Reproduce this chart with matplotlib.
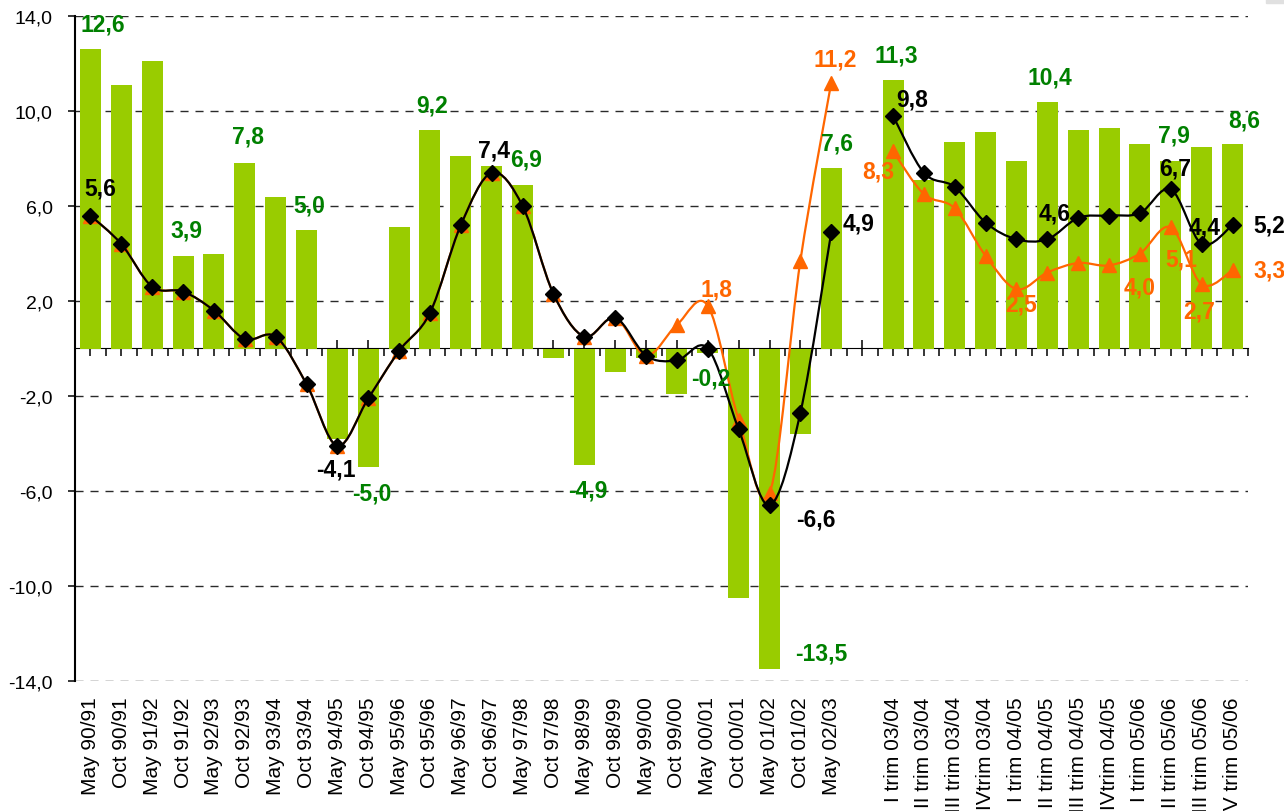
import numpy as np
import matplotlib
matplotlib.use("Agg")
import matplotlib.pyplot as plt
from matplotlib.path import Path
from matplotlib.patches import PathPatch, Rectangle
from matplotlib.ticker import FixedLocator, FuncFormatter

plt.rcParams['font.family'] = ['Liberation Sans', 'DejaVu Sans']

# ---------------- data ----------------
annual_labels = ["May 90/91", "Oct 90/91", "May 91/92", "Oct 91/92", "May 92/93",
                 "Oct 92/93", "May 93/94", "Oct 93/94", "May 94/95", "Oct 94/95",
                 "May 95/96", "Oct 95/96", "May 96/97", "Oct 96/97", "May 97/98",
                 "Oct 97/98", "May 98/99", "Oct 98/99", "May 99/00", "Oct 99/00",
                 "May 00/01", "Oct 00/01", "May 01/02", "Oct 01/02", "May 02/03"]
quarter_labels = ["I trim 03/04", "II trim 03/04", "III trim 03/04", "IVtrim 03/04",
                  "I trim 04/05", "II trim 04/05", "III trim 04/05", "IVtrim 04/05",
                  "I trim 05/06", "II trim 05/06", "III trim 05/06", "IV trim 05/06"]

bars_annual = [12.6, 11.1, 12.1, 3.9, 4.0, 7.8, 6.4, 5.0, -3.8, -5.0, 5.1, 9.2, 8.1,
               7.7, 6.9, -0.4, -4.9, -1.0, -0.4, -1.9, -0.2, -10.5, -13.5, -3.6, 7.6]
bars_quarter = [11.3, 7.1, 8.7, 9.1, 7.9, 10.4, 9.2, 9.3, 8.6, 7.9, 8.5, 8.6]

black_annual = [5.6, 4.4, 2.6, 2.4, 1.6, 0.4, 0.5, -1.5, -4.1, -2.1, -0.1, 1.5, 5.2,
                7.4, 6.0, 2.3, 0.5, 1.3, -0.3, -0.5, 0.0, -3.4, -6.6, -2.7, 4.9]
black_quarter = [9.8, 7.4, 6.8, 5.3, 4.6, 4.6, 5.5, 5.6, 5.7, 6.7, 4.4, 5.2]

orange_annual = [5.6, 4.4, 2.6, 2.4, 1.6, 0.4, 0.5, -1.5, -4.1, -2.1, -0.1, 1.5, 5.2,
                 7.4, 6.0, 2.3, 0.5, 1.3, -0.3, 1.0, 1.8, -3.0, -6.1, 3.7, 11.2]
orange_quarter = [8.3, 6.5, 5.9, 3.9, 2.5, 3.2, 3.6, 3.5, 4.0, 5.1, 2.7, 3.3]

y_ticks = [-14, -10, -6, -2, 2, 6, 10, 14]

# ---------------- style / label placement (pixel offsets) ----------------
GREEN_BAR = "#99CC00"
GREEN_TXT = "#008000"
ORANGE = "#FF6600"
BLACK = "#000000"

green_label_offsets = {0: (12, 25), 3: (3, 26), 5: (3, 27), 7: (3, 25), 9: (4, -26),
                       11: (2, 25), 14: (3, 26), 16: (3, -25), 20: (3, -25),
                       22: (52, 16), 24: (6, 25), 26: (3, 25), 31: (3, 25),
                       35: (3, 26), 37: (12, 24)}
black_label_offsets = {0: (10, 28), 8: (-2, -23), 13: (2, 23), 22: (46, -14),
                       24: (27, 9), 26: (19, 17), 31: (7, 26), 35: (4, 21),
                       36: (3, 17), 37: (37, 0)}
orange_label_offsets = {20: (9, 17), 24: (4, 24), 26: (-15, -20), 30: (5, -15),
                        34: (0, -34), 35: (10, -32), 36: (-3, -27), 37: (37, 0)}

# ---------------- positions ----------------
x_annual = np.arange(len(annual_labels))
x_quarter = np.arange(len(quarter_labels)) + len(annual_labels) + 1
n_slots = len(annual_labels) + 1 + len(quarter_labels)
slot_labels = annual_labels + [""] + quarter_labels


def fmt(v):
    return f"{v:.1f}".replace(".", ",")


def smooth_path(xs, ys):
    pts = np.column_stack([xs, ys]).astype(float)
    n = len(pts)
    verts = [pts[0]]
    codes = [Path.MOVETO]
    for i in range(n - 1):
        p0 = pts[i - 1] if i > 0 else pts[i]
        p1 = pts[i]
        p2 = pts[i + 1]
        p3 = pts[i + 2] if i + 2 < n else pts[i + 1]
        c1 = p1 + (p2 - p0) / 6.0
        c2 = p2 - (p3 - p1) / 6.0
        verts += [c1, c2, p2]
        codes += [Path.CURVE4] * 3
    return Path(verts, codes)


fig = plt.figure(figsize=(12.84, 8.12), dpi=100)
W, H = 1284, 812
ax = fig.add_axes([75 / W, 1 - 682 / H, (1248 - 75) / W, (682 - 17) / H])

# small grey mark in the top-right corner of the reference
fig.patches.append(Rectangle((1266 / W, 1 - 4 / H), 18 / W, 4 / H,
                             transform=fig.transFigure, color="#E0E0E0", zorder=0))

ax.set_xlim(-0.5, n_slots - 0.5)
ax.set_ylim(-14, 14)

# grid
ax.set_yticks(y_ticks)
ax.yaxis.set_major_formatter(FuncFormatter(lambda v, p: fmt(v)))
ax.yaxis.grid(True, color="#2a2a2a", linewidth=1.0, linestyle=(0, (5.8, 5.0)), zorder=0)
ax.set_axisbelow(True)

# bars
bw = 0.68
ax.bar(x_annual, bars_annual, width=bw, color=GREEN_BAR, zorder=2)
ax.bar(x_quarter, bars_quarter, width=bw, color=GREEN_BAR, zorder=2)

# smooth lines
for xs, ys, col, z in [(x_annual, orange_annual, ORANGE, 3), (x_quarter, orange_quarter, ORANGE, 3),
                       (x_annual, black_annual, BLACK, 5), (x_quarter, black_quarter, BLACK, 5)]:
    ax.add_patch(PathPatch(smooth_path(xs, ys), fill=False, edgecolor=col,
                           linewidth=1.6, zorder=z, capstyle="round", joinstyle="round"))

for xs, ys in [(x_annual, orange_annual), (x_quarter, orange_quarter)]:
    ax.plot(xs, ys, linestyle="none", marker="^", markersize=10.5,
            color=ORANGE, markeredgecolor=ORANGE, zorder=4)
for xs, ys in [(x_annual, black_annual), (x_quarter, black_quarter)]:
    ax.plot(xs, ys, linestyle="none", marker="D", markersize=8,
            color=BLACK, markeredgecolor=BLACK, zorder=6)

# axes styling
for s in ["top", "right", "bottom"]:
    ax.spines[s].set_visible(False)
ax.spines["left"].set_linewidth(1.5)
ax.tick_params(axis="y", direction="out", length=5, width=1.1, pad=11, labelsize=14)

ax.set_xticks(np.arange(n_slots))
ax.set_xticklabels(slot_labels, rotation=90, fontsize=15)
ax.tick_params(axis="x", length=0, pad=11)
for lbl in ax.get_xticklabels():
    lbl.set_verticalalignment("top")

# zero axis with tick marks
zero_frac = (0 - (-14)) / 28.0
sec = ax.secondary_xaxis(zero_frac)
sec.spines["bottom"].set_linewidth(1.6)
sec.set_xticks(np.arange(n_slots))
sec.set_xticklabels([])
sec.xaxis.set_minor_locator(FixedLocator(np.arange(n_slots + 1) - 0.5))
sec.tick_params(axis="x", which="major", direction="inout", length=11, width=1.1)
sec.tick_params(axis="x", which="minor", direction="in", length=6, width=1.1)

# value dictionaries by slot
bar_vals = dict(zip(list(x_annual) + list(x_quarter), bars_annual + bars_quarter))
black_vals = dict(zip(list(x_annual) + list(x_quarter), black_annual + black_quarter))
orange_vals = dict(zip(list(x_annual) + list(x_quarter), orange_annual + orange_quarter))

txt_kw = dict(textcoords="offset pixels", ha="center", va="center",
              fontsize=16.5, fontweight="bold", zorder=10)
for slot, (dx, dy) in green_label_offsets.items():
    v = bar_vals[slot]
    ax.annotate(fmt(v), (slot, v), xytext=(dx, dy), color=GREEN_TXT, **txt_kw)
for slot, (dx, dy) in black_label_offsets.items():
    v = black_vals[slot]
    ax.annotate(fmt(v), (slot, v), xytext=(dx, dy), color=BLACK, **txt_kw)
for slot, (dx, dy) in orange_label_offsets.items():
    v = orange_vals[slot]
    ax.annotate(fmt(v), (slot, v), xytext=(dx, dy), color=ORANGE, **txt_kw)

fig.savefig("out.png", dpi=100)
